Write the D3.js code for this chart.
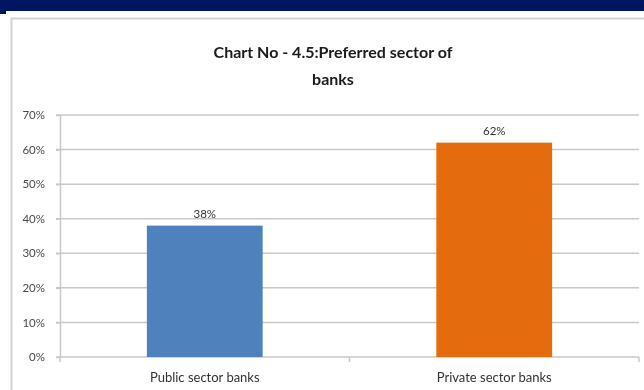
<!DOCTYPE html>
<html>
<head>
<meta charset="utf-8">
<script src="https://cdn.jsdelivr.net/npm/d3@7"></script>
<style>
  html, body { margin: 0; padding: 0; background: #fff; }
  svg { display: block; }
</style>
</head>
<body>
<svg id="chart" width="644" height="390"></svg>
<script>
// Preferred sector of banks (share of respondents)
const categories = ["Public sector banks", "Private sector banks"];
const shares = [0.38, 0.62];
const barColors = ["#4f81bd", "#e46c0a"];
const yTicks = [0, 0.1, 0.2, 0.3, 0.4, 0.5, 0.6, 0.7];
const titleLines = ["Chart No - 4.5:Preferred sector of", "banks"];

const svg = d3.select("#chart");
const W = 644, H = 390;
const margin = { left: 60, right: 5, top: 115, bottom: 33 };
const fontFamily = "Lato, 'Open Sans', 'Liberation Sans', sans-serif";

// soft rendering of the whole page
const defs = svg.append("defs");
defs.append("filter").attr("id", "soft")
  .append("feGaussianBlur").attr("stdDeviation", 0.5);

const root = svg.append("g").attr("filter", "url(#soft)");

// page header band
root.append("rect").attr("x", 0).attr("y", 0).attr("width", W).attr("height", 11).attr("fill", "#021664");
root.append("rect").attr("x", 0).attr("y", 0).attr("width", 6).attr("height", 14).attr("fill", "#021664");

// chart area frame
root.append("path")
  .attr("d", `M11.5,${H} V18.5 H${W}`)
  .attr("fill", "none").attr("stroke", "#d4d4d4").attr("stroke-width", 2);

const x = d3.scaleBand()
  .domain(categories)
  .range([margin.left, W - margin.right])
  .paddingInner(0.6)
  .paddingOuter(0.3);

const y = d3.scaleLinear()
  .domain([0, 0.7])
  .range([H - margin.bottom, margin.top]);

// gridlines
root.append("g")
  .selectAll("line")
  .data(yTicks)
  .join("line")
  .attr("x1", margin.left - 4)
  .attr("x2", W - margin.right)
  .attr("y1", d => y(d))
  .attr("y2", d => y(d))
  .attr("stroke", "#c8c8c8")
  .attr("stroke-width", 1.5);

// y axis
const yAxis = root.append("g")
  .attr("transform", `translate(${margin.left},0)`)
  .call(d3.axisLeft(y).tickValues(yTicks).tickFormat(d3.format(".0%")).tickSize(4).tickPadding(11));
yAxis.select(".domain").attr("stroke", "#c8c8c8").attr("stroke-width", 1.5)
  .attr("d", `M0.5,${y(0.7)}V${y(0) + 1}`);
yAxis.selectAll(".tick line").attr("stroke", "#c8c8c8").attr("stroke-width", 1.5);
yAxis.selectAll(".tick text")
  .attr("fill", "#4a4a4a")
  .style("font-family", fontFamily)
  .style("font-size", "11.5px");

// x axis with boundary ticks between categories
const xAxisG = root.append("g").attr("transform", `translate(0,${y(0)})`);
const bounds = [x.range()[0], x.range()[0] + x.step(), x.range()[1]];
xAxisG.selectAll("line.bt")
  .data(bounds)
  .join("line")
  .attr("class", "bt")
  .attr("x1", d => d).attr("x2", d => d)
  .attr("y1", 0).attr("y2", 5)
  .attr("stroke", "#c8c8c8").attr("stroke-width", 1.5);
xAxisG.selectAll("text")
  .data(categories)
  .join("text")
  .attr("x", d => x(d) + x.bandwidth() / 2)
  .attr("y", 25)
  .attr("text-anchor", "middle")
  .attr("fill", "#333")
  .style("font-family", fontFamily)
  .style("font-size", "13px")
  .text(d => d);

// bars
root.append("g")
  .selectAll("rect")
  .data(categories)
  .join("rect")
  .attr("x", d => x(d))
  .attr("width", x.bandwidth())
  .attr("y", (d, i) => y(shares[i]))
  .attr("height", (d, i) => y(0) - y(shares[i]))
  .attr("fill", (d, i) => barColors[i]);

// value labels
root.append("g")
  .selectAll("text")
  .data(categories)
  .join("text")
  .attr("x", d => x(d) + x.bandwidth() / 2)
  .attr("y", (d, i) => y(shares[i]) - 8)
  .attr("text-anchor", "middle")
  .attr("fill", "#333")
  .style("font-family", fontFamily)
  .style("font-size", "11.5px")
  .text((d, i) => d3.format(".0%")(shares[i]));

// title
root.append("g")
  .selectAll("text")
  .data(titleLines)
  .join("text")
  .attr("x", 333)
  .attr("y", (d, i) => 58 + i * 27)
  .attr("text-anchor", "middle")
  .attr("fill", "#1a1a1a")
  .style("font-family", fontFamily)
  .style("font-weight", "bold")
  .style("font-size", "16px")
  .text(d => d);
</script>
</body>
</html>
